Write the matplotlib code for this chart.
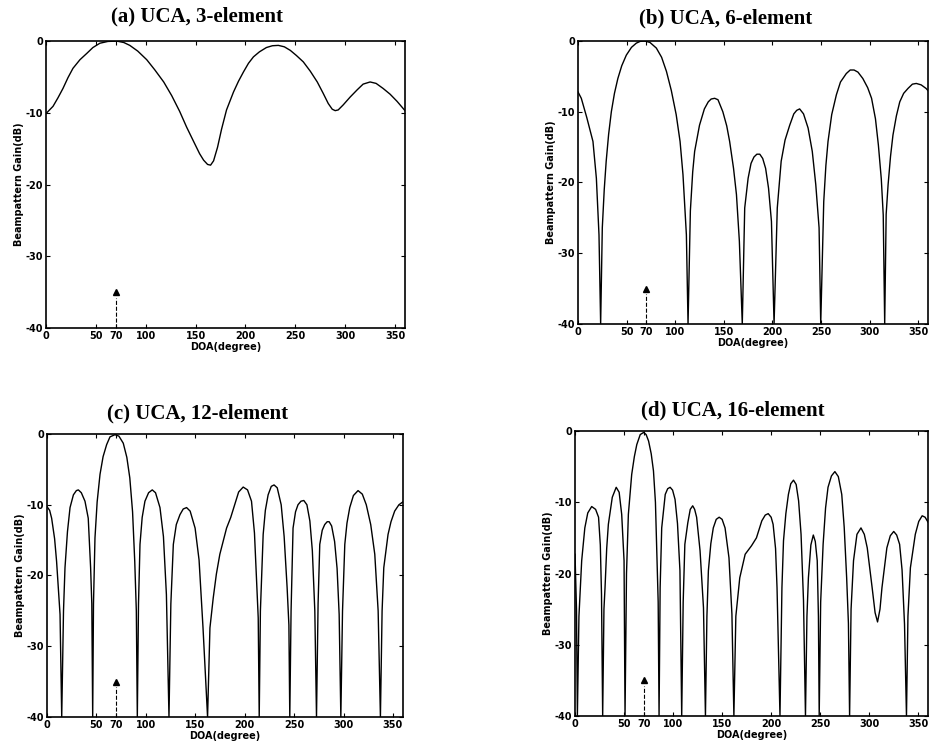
import matplotlib
matplotlib.use("Agg")
import matplotlib.pyplot as plt

plt.rcParams['axes.unicode_minus'] = False

# beampatterns: (DOA in degrees, gain in dB)
a_pts = [(0, -10.1), (7, -9.1), (12, -7.9), (17, -6.6), (22, -5.1), (27, -3.8),
         (34, -2.6), (41, -1.7), (47, -0.9), (54, -0.3), (62, -0.05), (71, 0.0),
         (78, -0.2), (84, -0.6), (92, -1.4), (101, -2.6), (109, -4.0),
         (118, -5.7), (126, -7.6), (134, -9.8), (141, -12.0), (148, -14.0),
         (154, -15.7), (158, -16.6), (162, -17.2), (165, -17.3), (168, -16.7),
         (172, -14.8), (176, -12.3), (181, -9.6), (188, -7.1), (193, -5.6),
         (198, -4.3), (203, -3.1), (208, -2.2), (214, -1.5), (221, -0.9),
         (227, -0.65), (233, -0.6), (239, -0.8), (245, -1.3), (251, -2.0),
         (258, -2.9), (265, -4.2), (272, -5.7), (278, -7.3), (283, -8.7),
         (287, -9.5), (290, -9.7), (293, -9.6), (298, -8.9), (305, -7.8),
         (312, -6.8), (318, -6.0), (325, -5.7), (331, -5.9), (338, -6.6),
         (345, -7.4), (352, -8.4), (360, -9.7)]

b_pts = [(0, -7.2), (3.4, -8.1), (9, -10.8), (15.4, -14.2), (18.9, -19.4),
         (21.6, -27.4), (23.3, -40), (25, -26.4), (27, -21.0), (29, -17.0),
         (31.5, -13.2), (34.3, -10.0), (37.5, -7.4), (41, -5.3), (45, -3.5),
         (49.7, -2.0), (55, -0.9), (60, -0.3), (64, -0.05), (68.6, 0.0),
         (74, -0.2), (80.6, -1.0), (86, -2.3), (91, -4.3), (96, -7.0),
         (101, -10.4), (105, -14.2), (108, -18.9), (111.5, -27.4), (113.2, -40),
         (115.6, -24.0), (118, -18.5), (120, -15.6), (125, -11.9), (130, -9.6),
         (134, -8.6), (137, -8.2), (140.6, -8.1), (144, -8.3), (149, -10.0),
         (153, -12.0), (156, -14.2), (160, -18.0), (163, -21.7), (166, -28.3),
         (169, -40), (171.5, -23.6), (175, -19.4), (178, -17.3), (181, -16.4),
         (184, -16.0), (187, -16.0), (190, -16.6), (193, -18.0), (196, -20.8),
         (199, -25.5), (201.7, -40), (205, -23.6), (209, -17.0), (213, -14.0),
         (217.8, -11.9), (222, -10.3), (225, -9.8), (228, -9.6), (232, -10.3),
         (236.7, -12.3), (241, -15.6), (244.6, -20.3), (248, -26.4),
         (249.7, -40), (252.8, -22.7), (255, -17.6), (257.2, -14.2),
         (261, -10.4), (265.8, -7.6), (270, -5.8), (276, -4.6), (280, -4.1),
         (284, -4.1), (288, -4.4), (293, -5.3), (298, -6.6), (302, -8.1),
         (306, -11.0), (309, -14.7), (312, -19.5), (314, -24.6), (315.5, -40),
         (317, -24.5), (319, -20.3), (321.5, -16.3), (324, -13.3),
         (327.5, -10.6), (331, -8.6), (335, -7.4), (339.5, -6.7), (344, -6.1),
         (348, -6.0), (353, -6.2), (358, -6.7), (360, -7.0)]

c_pts = [(0, -10.2), (3, -10.8), (5, -11.9), (8, -14.8), (10, -18.0),
         (13.5, -25.5), (15.2, -40), (17, -25.0), (18.5, -18.9), (21, -13.8),
         (23.6, -10.4), (27, -8.6), (30, -8.0), (32, -7.9), (35, -8.3),
         (38.7, -9.5), (42, -11.9), (44.4, -18.9), (45.6, -24.0), (46.5, -40),
         (47.3, -24.0), (48.8, -14.7), (51, -9.6), (53.9, -5.7), (57, -3.2),
         (60.6, -1.5), (64, -0.4), (69, -0.1), (73, -0.3), (77.4, -1.3),
         (81, -3.3), (84, -6.2), (86.8, -11.0), (89, -18.0), (90.6, -25.0),
         (91.6, -40), (92.8, -24.0), (94.3, -15.6), (96.5, -11.8), (99.3, -9.5),
         (103, -8.3), (106.7, -7.9), (110, -8.3), (114.5, -10.4), (118, -14.5),
         (121, -22.7), (123.6, -40), (125.5, -24.0), (128, -15.6), (131, -12.8),
         (134.7, -11.4), (138, -10.6), (141.4, -10.4), (145, -10.9),
         (150, -13.3), (154, -17.8), (158, -27.4), (162.6, -40), (165, -27.4),
         (168.3, -23.2), (171.5, -19.8), (175, -17.0), (181.8, -13.3),
         (186, -11.8), (190, -10.0), (194, -8.2), (198.6, -7.5), (203, -7.9),
         (207, -9.5), (210, -14.0), (212, -20.3), (213.8, -26.0), (214.8, -40),
         (216, -25.0), (218.8, -14.2), (221, -10.8), (223.8, -8.6), (227, -7.4),
         (229.8, -7.2), (233, -7.6), (237, -10.0), (240, -14.5), (243, -21.7),
         (244.8, -27.0), (245.7, -40), (247, -25.0), (249, -13.3),
         (251.5, -11.0), (254, -10.0), (257, -9.5), (259.9, -9.4), (263, -10.0),
         (266, -12.3), (268.5, -16.5), (271, -25.0), (272.7, -40), (274.3, -24.0),
         (276, -15.6), (278.5, -13.6), (281, -12.8), (283.5, -12.4),
         (285.5, -12.4), (288, -13.0), (291, -15.2), (293.5, -19.0),
         (295.6, -25.5), (297.3, -40), (299, -25.0), (301.3, -15.6),
         (303.5, -12.6), (306.3, -10.4), (310, -8.7), (314.7, -8.0),
         (319, -8.5), (323, -10.0), (327.5, -12.8), (331.6, -17.0), (335, -25.0),
         (337.3, -40), (339, -25.0), (340.7, -18.9), (345, -14.2), (348, -12.4),
         (351.7, -10.9), (356, -10.0), (360, -9.6)]

d_pts = [(0, -17.3), (1.5, -25.0), (2.4, -40), (4, -26.0), (6.8, -18.2),
         (10, -13.6), (13, -11.5), (17, -10.6), (21, -11.0), (24, -12.1),
         (25.8, -16.0), (27, -22.9), (28.2, -40), (29.5, -25.0), (30.6, -22.0),
         (32.3, -16.5), (34, -13.1), (38, -9.3), (42, -7.9), (45, -8.6),
         (47.6, -11.7), (50, -18.2), (51, -40), (52.5, -20.0), (54.4, -11.7),
         (57.8, -6.1), (60.5, -3.6), (63, -1.9), (66.5, -0.5), (70, -0.2),
         (72.5, -0.5), (75, -1.4), (77.7, -3.2), (80, -5.6), (82, -10.0),
         (83, -15.0), (84.8, -24.0), (85.7, -40), (86.8, -22.0), (88.4, -13.6),
         (92, -8.9), (94.5, -8.1), (97, -7.9), (99.5, -8.3), (102, -9.6),
         (104.5, -13.0), (107, -19.6), (108.8, -40), (110.3, -24.0),
         (112, -15.9), (115, -12.9), (117.5, -11.0), (120, -10.5), (122, -11.0),
         (124, -12.1), (127.5, -16.8), (131, -24.8), (133, -40), (134.5, -26.0),
         (136, -19.6), (138.5, -15.8), (141, -13.6), (144, -12.4), (147, -12.1),
         (150, -12.4), (153, -13.6), (157, -17.8), (160, -25.7), (162, -40),
         (164, -26.0), (168, -20.6), (173.5, -17.3), (180, -16.1), (185, -15.0),
         (190.5, -12.6), (194, -11.8), (197, -11.6), (200, -12.1), (202, -13.1),
         (204.5, -16.5), (206, -22.0), (209, -40), (211, -22.0), (212.6, -15.4),
         (215, -11.6), (217.6, -8.9), (220, -7.4), (222.8, -6.9), (225.5, -7.5),
         (228, -9.8), (230.5, -14.5), (233, -23.8), (235, -40), (236.5, -26.0),
         (238, -20.6), (240.5, -16.0), (243, -14.6), (245, -15.5), (247, -18.2),
         (248.2, -26.0), (249, -40), (250.5, -24.0), (253, -15.9),
         (255.5, -10.8), (258, -7.9), (261.5, -6.3), (265, -5.7), (268.5, -6.4),
         (272, -8.9), (274.5, -13.5), (277, -20.6), (278.8, -27.0), (280, -40),
         (281.5, -25.0), (284, -18.2), (287.5, -14.5), (291.6, -13.6),
         (295, -14.5), (298, -16.4), (303, -22.0), (306, -25.5), (308.5, -26.8),
         (311, -25.0), (313, -22.0), (318, -16.4), (321.5, -14.7), (325, -14.1),
         (328, -14.6), (331, -15.9), (333.5, -19.5), (336, -27.1), (338, -40),
         (339.5, -26.0), (342, -19.2), (347, -14.5), (350.5, -12.7),
         (354, -11.9), (357, -12.1), (360, -12.8)]

titles = ["(a) UCA, 3-element", "(b) UCA, 6-element",
          "(c) UCA, 12-element", "(d) UCA, 16-element"]
patterns = [a_pts, b_pts, c_pts, d_pts]

x_ticks = [0, 50, 70, 100, 150, 200, 250, 300, 350]
y_ticks = [0, -10, -20, -30, -40]
doa_target = 70
arrow_top = -35

# axes rectangles and title anchors in figure fractions
boxes = [[0.0495, 0.5633, 0.386, 0.382],
         [0.6215, 0.5686, 0.3763, 0.3768],
         [0.0502, 0.0453, 0.383, 0.3768],
         [0.6183, 0.0466, 0.3796, 0.3795]]
title_pos = [(0.212, 0.978), (0.780, 0.976), (0.212, 0.450), (0.788, 0.454)]

fig = plt.figure(figsize=(9.3, 7.51), dpi=100)

for box, pts, title, tpos in zip(boxes, patterns, titles, title_pos):
    deg, db = zip(*pts)
    ax = fig.add_axes(box)
    ax.plot(deg, db, color='k', lw=1.0)
    # look direction marker
    ax.plot([doa_target, doa_target], [-40, arrow_top - 0.8], color='k',
            lw=0.8, ls='--')
    ax.plot([doa_target], [arrow_top], marker='^', color='k', ms=4)
    ax.set_xlim(0, 360)
    ax.set_ylim(-40, 0)
    ax.set_xticks(x_ticks)
    ax.set_yticks(y_ticks)
    ax.tick_params(direction='in', top=True, right=True, length=3, width=0.8,
                   labelsize=7, pad=2)
    for lab in ax.get_xticklabels() + ax.get_yticklabels():
        lab.set_fontweight('bold')
    for s in ax.spines.values():
        s.set_linewidth(1.2)
    ax.set_xlabel('DOA(degree)', fontsize=7, fontweight='bold', labelpad=1)
    ax.set_ylabel('Beampattern Gain(dB)', fontsize=7, fontweight='bold',
                  labelpad=1)
    fig.text(tpos[0], tpos[1], title, ha='center', va='center',
             family='Liberation Serif', fontweight='bold', fontsize=15)

fig.savefig('out.png', dpi=100)
